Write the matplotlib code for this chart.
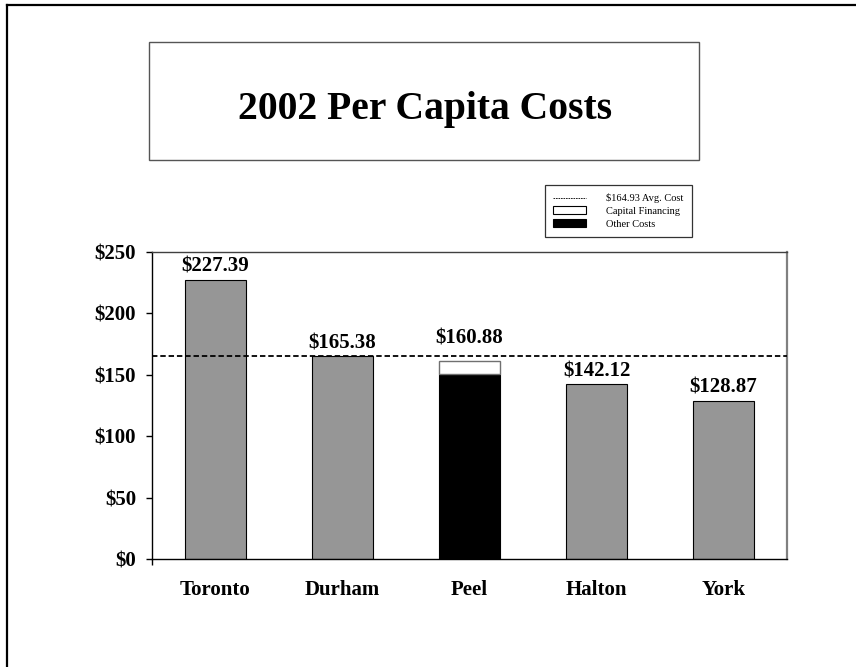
import matplotlib
matplotlib.use("Agg")
import matplotlib.pyplot as plt
from matplotlib.patches import Rectangle, Patch
from matplotlib.lines import Line2D

# Data
regions = ["Toronto", "Durham", "Peel", "Halton", "York"]
total_cost = [227.39, 165.38, 160.88, 142.12, 128.87]
peel_other_costs = 151.00
peel_capital_financing = 160.88 - 151.00
avg_cost = 164.93
y_ticks = [0, 50, 100, 150, 200, 250]
legend_labels = ["$164.93 Avg. Cost", "Capital Financing", "Other Costs"]

plt.rcParams["font.family"] = ["Liberation Serif", "DejaVu Serif"]

W, H = 856, 667
fig = plt.figure(figsize=(W / 100, H / 100), dpi=100)
fig.patch.set_facecolor("white")

# Page frame (left and top edges)
fx, fy = 7.5 / W, 1 - 4.5 / H
fig.add_artist(Line2D([fx, fx], [0, fy], transform=fig.transFigure, color="black", lw=1.6))
fig.add_artist(Line2D([fx, 1], [fy, fy], transform=fig.transFigure, color="black", lw=1.6))

# Title box
fig.add_artist(Rectangle((149 / W, 1 - 160 / H), 550 / W, 118 / H,
                         transform=fig.transFigure, facecolor="white",
                         edgecolor="#555555", lw=1.0))
fig.text(425 / W, 1 - 110 / H, "2002 Per Capita Costs", ha="center", va="center",
         fontsize=28.5, fontweight="bold")

ax = fig.add_axes([152 / W, 1 - 559 / H, 635 / W, 307 / H])
x = list(range(len(regions)))
width = 0.48

for i, (name, val) in enumerate(zip(regions, total_cost)):
    if name == "Peel":
        ax.bar(i, peel_other_costs, width, color="black", edgecolor="black", lw=0.8, zorder=2)
        ax.bar(i, peel_capital_financing, width, bottom=peel_other_costs, color="white",
               edgecolor="#707070", lw=1.0, zorder=2)
        off = 9
    else:
        ax.bar(i, val, width, color="#969696", edgecolor="black", lw=0.8, zorder=2)
        off = 2
    ax.annotate(f"${val:.2f}", (i, val), xytext=(0, off), textcoords="offset points",
                ha="center", va="bottom", fontsize=15, fontweight="bold", zorder=4)

ax.axhline(avg_cost, color="black", lw=1.3, linestyle=(0, (3, 1.6)), zorder=3)

ax.set_xlim(-0.5, len(regions) - 0.5)
ax.set_ylim(0, 250)
ax.set_yticks(y_ticks)
ax.set_yticklabels([f"${v}" for v in y_ticks], fontsize=15, fontweight="bold")
ax.set_xticks(x)
ax.set_xticklabels(regions, fontsize=15, fontweight="bold")
ax.tick_params(axis="x", length=0, pad=15)
ax.tick_params(axis="y", direction="out", length=4.5, width=1, pad=7)
ax.set_xticks([-0.5], minor=True)
ax.tick_params(axis="x", which="minor", direction="out", length=4.5, width=1)

ax.spines["left"].set_color("black")
ax.spines["bottom"].set_color("black")
ax.spines["top"].set_color("#404040")
ax.spines["right"].set_color("#808080")
ax.spines["right"].set_linewidth(1.6)
for s in ("left", "bottom", "top"):
    ax.spines[s].set_linewidth(1.0)

# Legend
handles = [
    Line2D([], [], color="black", lw=0.6, linestyle=(0, (2, 1))),
    Patch(facecolor="white", edgecolor="black", lw=0.8),
    Patch(facecolor="black", edgecolor="black", lw=0.8),
]
leg = fig.legend(handles, legend_labels, loc="upper left",
                 bbox_to_anchor=(545 / W, 1 - 185 / H), fontsize=7.5,
                 frameon=True, fancybox=False, borderaxespad=0,
                 handlelength=3.1, handleheight=0.8, handletextpad=2.0,
                 labelspacing=0.3, borderpad=0.8)
leg.get_frame().set_edgecolor("black")
leg.get_frame().set_linewidth(0.9)

fig.savefig("out.png", dpi=100, facecolor="white")
